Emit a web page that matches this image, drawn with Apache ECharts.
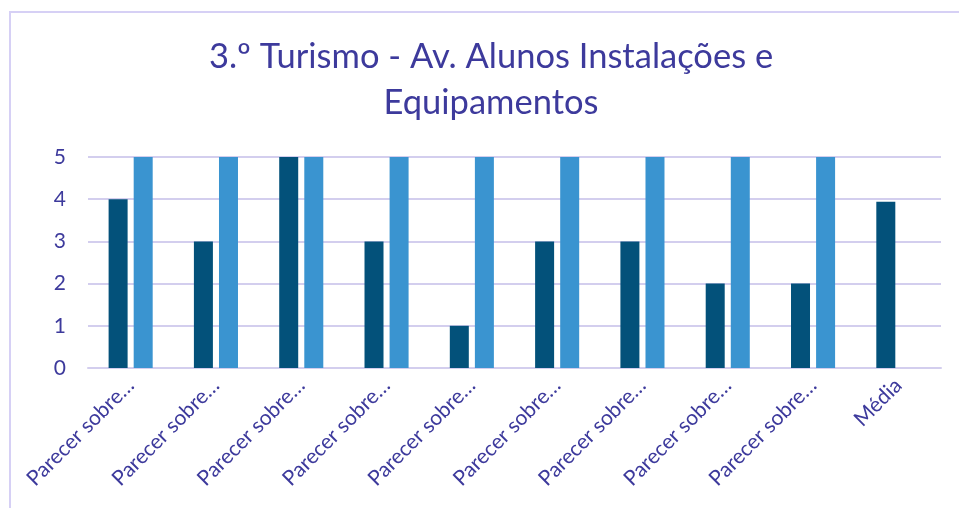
<!DOCTYPE html>
<html>
<head>
<meta charset="utf-8">
<script src="https://cdn.jsdelivr.net/npm/echarts@6/dist/echarts.min.js"></script>
<style>
html,body{margin:0;padding:0;background:#fff;}
#c{width:959px;height:508px;}
</style>
</head>
<body>
<div id="c"></div>
<script>
const titleText = "3.º Turismo - Av. Alunos Instalações e\nEquipamentos";
const categories = ["Parecer sobre…","Parecer sobre…","Parecer sobre…","Parecer sobre…","Parecer sobre…","Parecer sobre…","Parecer sobre…","Parecer sobre…","Parecer sobre…","Média"];
const seriesAvaliacao = [4,3,5,3,1,3,3,2,2,3.94];
const seriesMaximo = [5,5,5,5,5,5,5,5,5,null];
const yTicks = [0,1,2,3,4,5];

const textColor = "#3D3A9C";
const chart = echarts.init(document.getElementById('c'));
chart.setOption({
  animation:false,
  backgroundColor:'#fff',
  title:{
    text:titleText,
    left:486, top:29, textAlign:'center',
    textStyle:{fontFamily:'Lato',fontWeight:'normal',fontSize:34.5,lineHeight:46,color:textColor}
  },
  graphic:[{
    type:'rect', shape:{x:10,y:12,width:1000,height:600},
    style:{fill:'none',stroke:'#D6D0F5',lineWidth:2}, silent:true
  }],
  grid:{left:88,right:18,top:157,bottom:140},
  xAxis:{
    type:'category', data:categories,
    axisTick:{show:false},
    axisLine:{show:true,lineStyle:{color:'#D3CEEE',width:2}},
    axisLabel:{interval:0,rotate:45,color:textColor,fontFamily:'Lato',fontSize:21,margin:14}
  },
  yAxis:{
    type:'value', min:yTicks[0], max:yTicks[yTicks.length-1], interval:1,
    axisLine:{show:false}, axisTick:{show:false},
    axisLabel:{color:textColor,fontFamily:'Lato',fontSize:21,margin:22},
    splitLine:{lineStyle:{color:'#D3CEEE',width:2}}
  },
  series:[
    {name:'Avaliação',type:'bar',data:seriesAvaliacao,barWidth:19,barGap:'32%',itemStyle:{color:'#03517A'}},
    {name:'Máximo',type:'bar',data:seriesMaximo,barWidth:19,itemStyle:{color:'#3A94D0'}}
  ]
});
</script>
</body>
</html>
